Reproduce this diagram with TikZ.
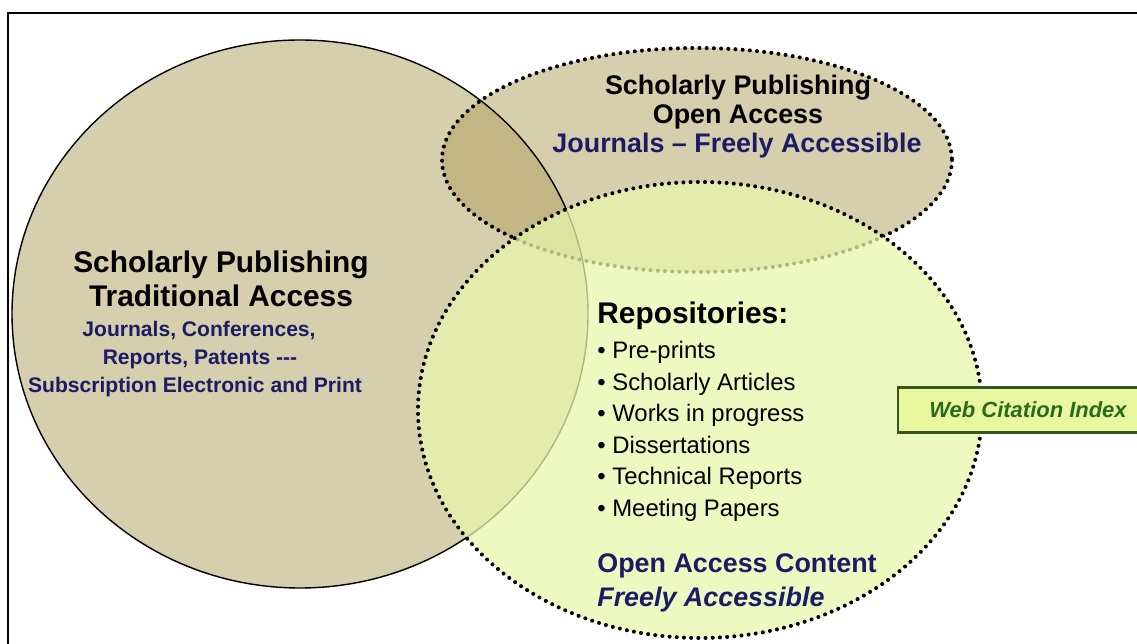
\documentclass[tikz,border=0pt]{standalone}
\usepackage{fontspec}
\setmainfont{Liberation Sans}
\definecolor{tan}{HTML}{D5CFAD}
\definecolor{tandark}{HTML}{C3B684}
\definecolor{oagreen}{HTML}{E8F6AC}
\definecolor{navy}{HTML}{1C1C66}
\definecolor{boxfill}{HTML}{E9F7A0}
\definecolor{boxline}{HTML}{37551F}
\definecolor{boxtext}{HTML}{2B6A1B}
\begin{document}
\begin{tikzpicture}[x=0.02cm, y=-0.02cm,
        dots/.style={line width=2.3pt, line cap=round, dash pattern=on 0pt off 4.1pt},
        bigtitle/.style={font=\fontsize{17}{20}\selectfont\bfseries, anchor=base, inner sep=0},
        subtitle/.style={font=\fontsize{12}{14}\selectfont\bfseries, text=navy, anchor=base, inner sep=0},
        toptitle/.style={font=\fontsize{15.3}{18}\selectfont\bfseries, anchor=base, inner sep=0},
        item/.style={font=\fontsize{13.6}{16}\selectfont, anchor=base west, inner sep=0},
        wcibox/.style={draw=boxline, line width=1.2pt, fill=boxfill, text=boxtext,
            font=\fontsize{12.5}{15}\selectfont\bfseries\itshape,
            minimum width=5.2cm, minimum height=0.9cm, anchor=west}]
    \useasboundingbox (0,0) rectangle (1137,644);

    % circles
    \fill[tan] (300,314) ellipse [x radius=288, y radius=274];
    \fill[tan] (697,160) ellipse [x radius=255, y radius=112];
    \begin{scope}
        \clip (300,314) ellipse [x radius=288, y radius=274];
        \fill[tandark] (697,160) ellipse [x radius=255, y radius=112];
    \end{scope}
    \draw[line width=0.8pt] (300,314) ellipse [x radius=288, y radius=274];
    \draw[dots] (697,160) ellipse [x radius=255, y radius=112];
    \fill[oagreen, opacity=0.75] (700,410) ellipse [x radius=282, y radius=228];
    \draw[dots] (700,410) ellipse [x radius=282, y radius=228];

    % frame
    \draw[line width=1.4pt] (8,660) |- (1150,13);

    % traditional access
    \node[bigtitle] (trad1) at (221,273) {Scholarly Publishing};
    \node[bigtitle] (trad2) at (221,307) {Traditional Access};
    \node[subtitle] (trad3) at (199,337) {Journals, Conferences,};
    \node[subtitle] (trad4) at (200,365) {Reports, Patents -{}-{}-};
    \node[subtitle] (trad5) at (195,393) {Subscription Electronic and Print};

    % open access
    \node[toptitle] (open1) at (738,95) {Scholarly Publishing};
    \node[toptitle] (open2) at (738,124) {Open Access};
    \node[toptitle, text=navy] (open3) at (737,153) {Journals -- Freely Accessible};

    % repositories
    \node[bigtitle, anchor=base west] (repo) at (597,324) {Repositories:};
    \foreach \t [count=\i] in {Pre-prints, Scholarly Articles, Works in progress,
            Dissertations, Technical Reports, Meeting Papers}
        \node[item] (item\i) at (597,327+31.6*\i) {• \t};
    \node[toptitle, anchor=base west, text=navy] (oa1) at (597,573) {Open Access Content};
    \node[toptitle, anchor=base west, text=navy, font=\fontsize{15.3}{18}\selectfont\bfseries\itshape]
        (oa2) at (597,607) {Freely Accessible};

    \node[wcibox] (wci) at (897,410) {Web Citation Index};
\end{tikzpicture}
\end{document}
